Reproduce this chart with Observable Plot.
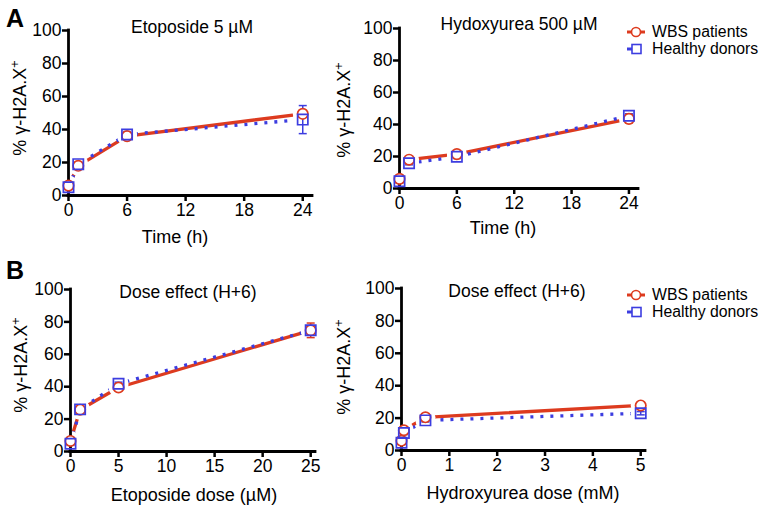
<!DOCTYPE html>
<html><head><meta charset="utf-8">
<script src="https://cdn.jsdelivr.net/npm/d3@7"></script>
<script src="https://cdn.jsdelivr.net/npm/@observablehq/plot@0.6"></script>
<style>
body{margin:0;background:#fff;font-family:"Liberation Sans",Arial,Helvetica,sans-serif;}
#root{position:relative;width:765px;height:509px;overflow:hidden;background:#fff;}
.abs{position:absolute;white-space:nowrap;color:#000;transform:translate(-50%,-50%);line-height:1;}
.title{font-size:17.5px;}
.letter{font-size:25px;font-weight:bold;}
.ylab{font-size:18px;transform:translate(-50%,-50%) rotate(-90deg);}
.ylab sup{font-size:12.5px;vertical-align:7px;}
.xlab{font-size:18px;}
.plotbox{position:absolute;}
.legend{position:absolute;font-size:15.8px;line-height:16.5px;}
.legend div{display:flex;align-items:center;height:16.5px;}
.legend svg{margin-right:6px;}
</style></head><body><div id="root"></div>
<script>
// ---------- data ----------
const timeH = [0, 1, 6, 24];
const etoTimeWBS = [6, 18, 36, 49.5];
const etoTimeWBSErr = [1, 1.2, 1.5, 2];
const etoTimeHD = [5, 19, 37, 46];
const etoTimeHDErr = [1, 1, 1.5, 8.5];

const huTimeWBS = [6, 18, 21.5, 43.5];
const huTimeWBSErr = [1, 1, 1, 2.5];
const huTimeHD = [4.5, 15.8, 19.8, 45.5];
const huTimeHDErr = [1, 1, 1, 1.2];

const etoDose = [0, 1, 5, 25];
const etoDoseWBS = [6.5, 25.8, 39.5, 74.8];
const etoDoseWBSErr = [1, 1, 1, 4.5];
const etoDoseHD = [4.8, 26, 41.8, 74.8];
const etoDoseHDErr = [1, 1, 1, 2];

const huDose = [0, 0.05, 0.5, 5];
const huDoseWBS = [6, 12.5, 20.5, 27.8];
const huDoseWBSErr = [1, 1, 1, 1];
const huDoseHD = [4.8, 10.8, 18.6, 23];
const huDoseHDErr = [1, 1, 1, 1];

const yTicks = [0, 20, 40, 60, 80, 100];
const timeTicks = [0, 6, 12, 18, 24];
const etoDoseTicks = [0, 5, 10, 15, 20, 25];
const huDoseTicks = [0, 1, 2, 3, 4, 5];

const seriesNames = ["WBS patients", "Healthy donors"];
const RED = "#dd3b1f";
const BLUE = "#3c3de0";

// ---------- drawing ----------
const root = document.getElementById("root");
const capSymbol = {draw(ctx) { ctx.moveTo(-4, 0); ctx.lineTo(4, 0); }};

function panel(o) {
  const rows = o.xs.map((x, i) => ({x, wbs: o.wbs[i], wbsErr: o.wbsErr[i], hd: o.hd[i], hdErr: o.hdErr[i]}));
  const svg = Plot.plot({
    width: o.width, height: o.height,
    marginLeft: o.mL, marginRight: o.mR, marginTop: o.mT, marginBottom: o.mB,
    style: {background: "transparent", overflow: "visible", fontFamily: '"Liberation Sans", Arial, sans-serif', fontSize: "17.5px", color: "#000"},
    x: {domain: o.xDomain},
    y: {domain: [0, 100]},
    marks: [
      Plot.line(rows, {x: "x", y: "wbs", stroke: RED, strokeWidth: 3.3, strokeLinecap: "butt"}),
      Plot.line(rows, {x: "x", y: "hd", stroke: BLUE, strokeWidth: 3.3, strokeDasharray: "3,7", strokeLinecap: "butt"}),
      Plot.dot(rows, {x: "x", y: "wbs", r: 10, fill: "white"}),
      Plot.dot(rows, {x: "x", y: "hd", r: 10, fill: "white"}),
      Plot.ruleX([o.xDomain[0]], {y1: 0, y2: 100, stroke: "#000", strokeWidth: 2.8, strokeLinecap: "square"}),
      Plot.ruleY([0], {x1: o.xDomain[0], x2: o.xDomain[1], stroke: "#000", strokeWidth: 2.8, strokeLinecap: "square"}),
      Plot.axisY({ticks: yTicks, tickSize: 6, tickPadding: 1, strokeWidth: 2.5, label: null, fontSize: 17.5, tickFormat: d => d}),
      Plot.axisX({ticks: o.xTicks, tickSize: 6, tickPadding: 2, strokeWidth: 2.5, label: null, fontSize: 17.5, tickFormat: d => d}),
      Plot.link(rows, {x1: "x", x2: "x", y1: d => d.wbs - d.wbsErr, y2: d => d.wbs + d.wbsErr, stroke: RED, strokeWidth: 1.5}),
      Plot.dot(rows, {x: "x", y: d => d.wbs - d.wbsErr, symbol: capSymbol, stroke: RED, fill: "none", strokeWidth: 1.5}),
      Plot.dot(rows, {x: "x", y: d => d.wbs + d.wbsErr, symbol: capSymbol, stroke: RED, fill: "none", strokeWidth: 1.5}),
      Plot.link(rows, {x1: "x", x2: "x", y1: d => d.hd - d.hdErr, y2: d => d.hd + d.hdErr, stroke: BLUE, strokeWidth: 1.5}),
      Plot.dot(rows, {x: "x", y: d => d.hd - d.hdErr, symbol: capSymbol, stroke: BLUE, fill: "none", strokeWidth: 1.5}),
      Plot.dot(rows, {x: "x", y: d => d.hd + d.hdErr, symbol: capSymbol, stroke: BLUE, fill: "none", strokeWidth: 1.5}),
      Plot.dot(rows, {x: "x", y: "wbs", r: 5.2, stroke: RED, strokeWidth: 1.7, fill: "white"}),
      Plot.dot(rows, {x: "x", y: "hd", symbol: "square", r: 5.8, stroke: BLUE, strokeWidth: 1.7, fill: "none"})
    ]
  });
  const box = document.createElement("div");
  box.className = "plotbox";
  box.style.left = o.left + "px";
  box.style.top = o.top + "px";
  box.appendChild(svg);
  root.appendChild(box);
}

function text(cls, html, x, y) {
  const d = document.createElement("div");
  d.className = "abs " + cls;
  d.innerHTML = html;
  d.style.left = x + "px";
  d.style.top = y + "px";
  root.appendChild(d);
}

function legend(x, y) {
  const lg = document.createElement("div");
  lg.className = "legend";
  lg.style.left = x + "px";
  lg.style.top = y + "px";
  lg.innerHTML =
    `<div><svg width="20" height="14"><line x1="1" y1="7" x2="19" y2="7" stroke="${RED}" stroke-width="3"/><circle cx="10" cy="7" r="4.5" fill="white" stroke="${RED}" stroke-width="1.6"/></svg>${seriesNames[0]}</div>` +
    `<div><svg width="20" height="14"><line x1="1" y1="7" x2="6" y2="7" stroke="${BLUE}" stroke-width="3"/><rect x="6" y="2.5" width="9" height="9" fill="white" stroke="${BLUE}" stroke-width="1.6"/></svg>${seriesNames[1]}</div>`;
  root.appendChild(lg);
}

panel({left: 0, top: 0, width: 380, height: 250, mL: 68, mR: 68, mT: 30, mB: 55,
  xDomain: [0, 25], xTicks: timeTicks, xs: timeH,
  wbs: etoTimeWBS, wbsErr: etoTimeWBSErr, hd: etoTimeHD, hdErr: etoTimeHDErr});
panel({left: 330, top: 0, width: 435, height: 250, mL: 69, mR: 127, mT: 28, mB: 62,
  xDomain: [0, 25], xTicks: timeTicks, xs: timeH,
  wbs: huTimeWBS, wbsErr: huTimeWBSErr, hd: huTimeHD, hdErr: huTimeHDErr});
panel({left: 0, top: 250, width: 380, height: 250, mL: 70, mR: 65, mT: 39, mB: 49,
  xDomain: [0, 25.5], xTicks: etoDoseTicks, xs: etoDose,
  wbs: etoDoseWBS, wbsErr: etoDoseWBSErr, hd: etoDoseHD, hdErr: etoDoseHDErr});
panel({left: 330, top: 250, width: 435, height: 250, mL: 71, mR: 120, mT: 38, mB: 50,
  xDomain: [0, 5.1], xTicks: huDoseTicks, xs: huDose,
  wbs: huDoseWBS, wbsErr: huDoseWBSErr, hd: huDoseHD, hdErr: huDoseHDErr});

text("letter", "A", 15, 18);
text("letter", "B", 15, 270);
text("title", "Etoposide 5 µM", 192, 28);
text("title", "Hydoxyurea 500 µM", 519, 25);
text("title", "Dose effect (H+6)", 188, 293);
text("title", "Dose effect (H+6)", 517, 292);
const yl = "% γ-H2A.X<sup>+</sup>";
text("ylab", yl, 19, 108);
text("ylab", yl, 343, 110);
text("ylab", yl, 20, 365);
text("ylab", yl, 343, 367);
text("xlab", "Time (h)", 175, 237);
text("xlab", "Time (h)", 503, 228);
text("xlab", "Etoposide dose (µM)", 194, 495);
text("xlab", "Hydroxyurea dose (mM)", 523, 493);
legend(626, 24);
legend(626, 287);
</script>
</body></html>
